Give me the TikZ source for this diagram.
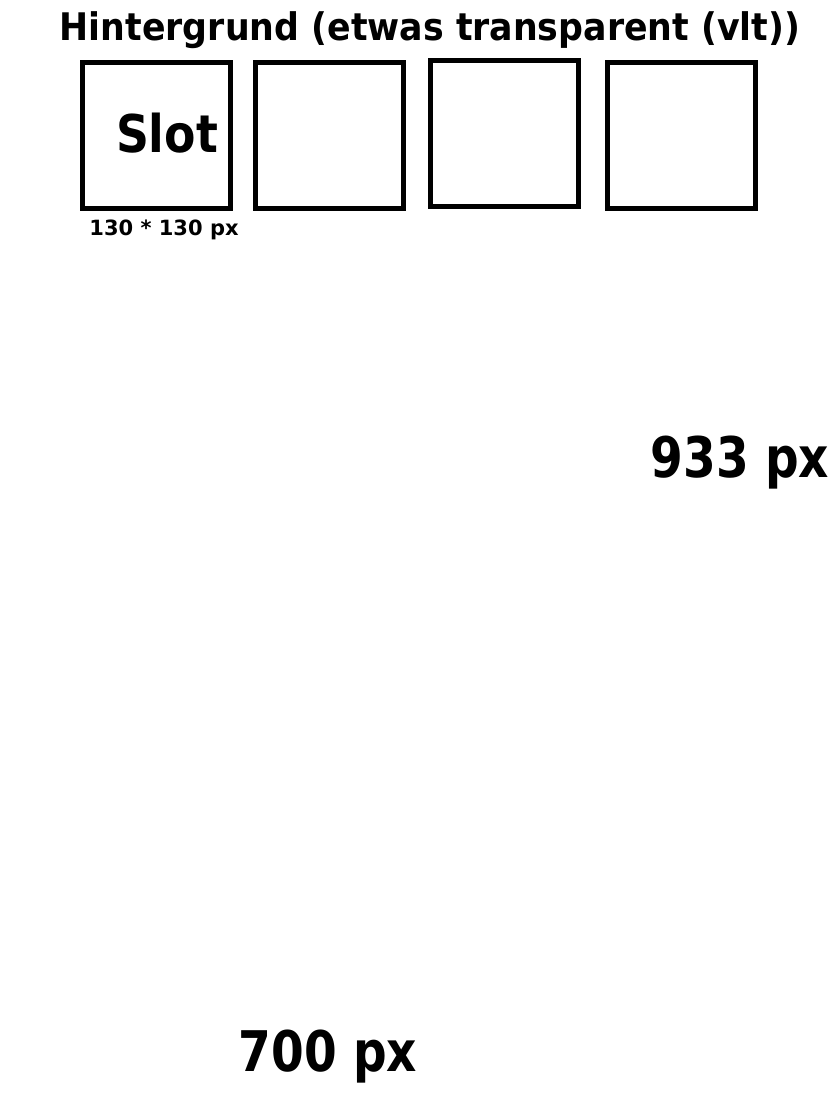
\documentclass[tikz,border=0pt]{standalone}
\usepackage{fontspec}
\usepackage{graphicx}
\setmainfont{DejaVu Sans}
\begin{document}
\begin{tikzpicture}[x=1pt,y=-1pt,
  slotbox/.style={draw=black,line width=5pt,minimum width=148pt,minimum height=146pt,inner sep=0pt,outer sep=0pt,anchor=north west},
  lbl/.style={inner sep=0pt,font=\bfseries}]
\useasboundingbox (0,0) rectangle (840,1120);
\node[lbl,font=\fontsize{38}{40}\selectfont\bfseries] (title) at (430,30) {\scalebox{0.915}[1]{Hintergrund (etwas transparent (vlt))}};
\node[slotbox] (s1) at (82.5,62.5) {};
\node[slotbox] (s2) at (255.5,62.5) {};
\node[slotbox] (s3) at (430.5,60.5) {};
\node[slotbox] (s4) at (607.5,62.5) {};
\node[lbl,font=\fontsize{52}{54}\selectfont\bfseries] (slot) at (167,133) {\scalebox{0.88}[1]{Slot}};
\node[lbl,font=\fontsize{21}{22}\selectfont\bfseries] (size) at (164,230) {130 * 130 px};
\node[lbl,font=\fontsize{56}{58}\selectfont\bfseries] (h) at (740,463) {\scalebox{0.84}[1]{933 px}};
\node[lbl,font=\fontsize{56}{58}\selectfont\bfseries] (w) at (328,1057) {\scalebox{0.84}[1]{700 px}};
\end{tikzpicture}
\end{document}
